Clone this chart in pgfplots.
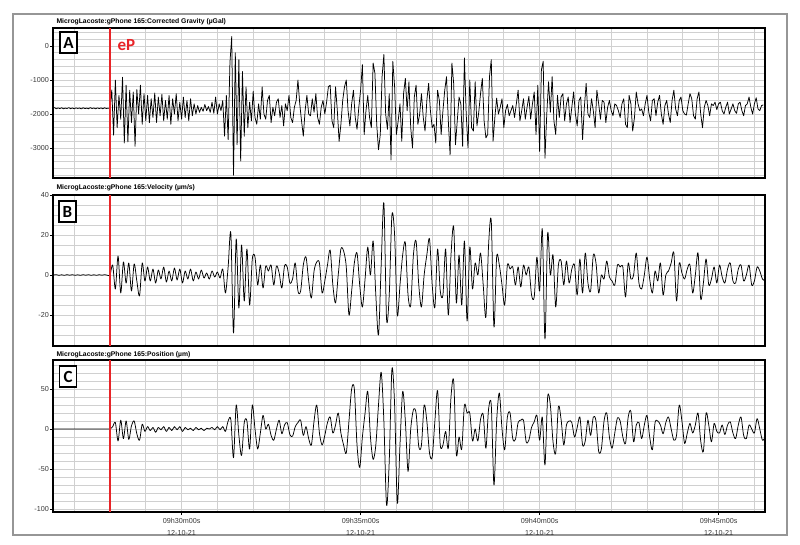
\documentclass[border=0pt]{standalone}
\usepackage{fontspec}
\setmainfont{Liberation Sans}
\newfontfamily\calibri{Carlito}
\usepackage{pgfplots}
\usepackage{pgfplotstable}
\pgfplotsset{compat=1.18}

\definecolor{epred}{RGB}{232,36,40}
\definecolor{gridgray}{RGB}{208,208,208}
\definecolor{framegray}{RGB}{150,150,150}
\definecolor{ticktext}{RGB}{55,55,55}

% corrected gravity (uGal), one sample every 0.05 min from 09h26m24s
\pgfplotstableread[row sep=\\]{
y\\
-1830\\ -1810\\ -1845\\ -1820\\ -1840\\ -1815\\ -1845\\ -1825\\ -1838\\ -1812\\ -1842\\ -1822\\ -1845\\ -1818\\ -1836\\ -1822\\
-1848\\ -1815\\ -1840\\ -1825\\ -1843\\ -1812\\ -1838\\ -1822\\ -1846\\ -1818\\ -1840\\ -1820\\ -1844\\ -1816\\ -1838\\ -1826\\
-1830\\ -1290\\ -2620\\ -1000\\ -2400\\ -1450\\ -2150\\ -920\\ -2850\\ -1150\\ -2820\\ -1300\\ -2250\\ -1350\\ -2950\\ -1280\\
-2000\\ -1150\\ -2300\\ -1400\\ -2200\\
-1450\\ -2250\\ -1550\\ -2100\\ -1380\\ -2250\\ -1500\\ -2050\\ -1420\\ -2200\\ -1600\\ -2150\\ -1450\\ -2300\\ -1550\\ -2000\\
-1400\\ -2200\\ -1650\\ -2150\\ -1500\\ -2100\\ -1600\\ -2200\\ -1550\\ -2050\\ -1700\\ -2000\\
-1750\\ -1950\\ -1800\\ -1920\\ -1720\\ -1900\\ -1780\\ -1950\\ -1650\\ -1980\\ -1500\\ -2000\\ -1700\\ -1900\\
-1600\\ -2650\\ -1450\\ -2750\\ -500\\ 280\\ -3800\\ -200\\ -2900\\ -400\\ -3380\\ -750\\ -2650\\ -1200\\ -2400\\
-1650\\ -2200\\ -1330\\ -2100\\ -2300\\ -1700\\ -2150\\ -1200\\ -2000\\ -2150\\ -1600\\ -1450\\ -2250\\ -1800\\ -2050\\ -1650\\
-1550\\ -2100\\ -1750\\ -2350\\ -1700\\ -1900\\ -1450\\ -2100\\ -2250\\ -1800\\ -1600\\ -1000\\ -1700\\ -2200\\ -2650\\ -1900\\
-1450\\ -2000\\ -2050\\ -1550\\ -1950\\ -1400\\ -2100\\ -2300\\ -1800\\ -1600\\ -2000\\ -1650\\ -1200\\ -1150\\ -2200\\ -2400\\
-1200\\ -1900\\ -2800\\ -2300\\ -1600\\ -1200\\ -1000\\ -1900\\ -2350\\ -1700\\ -1300\\ -2100\\ -2450\\ -1800\\
-1300\\ -550\\ -2600\\ -1900\\ -1450\\ -2100\\ -2400\\ -500\\ -800\\ -2300\\ -3050\\ -2600\\ -900\\ -250\\ -2000\\ -2450\\
-1400\\ -3350\\ -450\\ -1200\\ -2600\\ -2200\\ -1700\\ -2800\\ -1400\\ -950\\ -1900\\ -1050\\ -2400\\ -3000\\ -1500\\ -1150\\
-2300\\ -2000\\ -1400\\ -2100\\ -2500\\ -1600\\ -1100\\ -1900\\ -2400\\ -2300\\ -2850\\ -1300\\ -1600\\
-2600\\ -1900\\ -1300\\ -900\\ -2200\\ -3200\\ -500\\ -1100\\ -2900\\ -2200\\ -1500\\ -1700\\ -2950\\ -350\\ -2000\\ -3000\\
-1000\\ -2400\\ -2500\\ -1050\\ -2350\\ -1950\\ -1400\\ -950\\ -2200\\ -2700\\ -2600\\ -900\\ -400\\ -2800\\ -2100\\ -1530\\
-2000\\ -1800\\ -1550\\ -2400\\ -1900\\ -1720\\ -2050\\ -1900\\ -1750\\ -2100\\ -1700\\ -1300\\ -2200\\ -1900\\ -1550\\ -2150\\
-1800\\ -1480\\ -2150\\ -1700\\ -1350\\ -2600\\ -1150\\ -3100\\ -700\\ -450\\ -3300\\ -2000\\ -1050\\ -1950\\ -900\\ -2200\\
-2600\\ -1450\\ -2100\\ -1500\\ -1400\\ -2200\\ -1700\\ -1500\\ -2250\\ -1800\\ -1350\\ -2000\\ -2350\\ -1600\\ -1500\\ -2750\\
-1800\\ -1100\\ -2000\\ -2100\\ -1550\\ -1900\\ -2400\\ -1300\\ -1700\\ -2150\\ -1600\\ -1650\\ -2250\\ -1800\\ -1600\\ -1900\\
-2050\\ -1700\\ -1750\\ -1900\\ -2100\\ -1700\\ -1550\\ -2300\\ -2400\\ -1450\\ -1700\\ -2500\\ -2100\\ -1350\\ -1700\\ -1900\\
-1850\\ -2050\\ -1700\\ -1450\\ -1950\\ -2200\\ -1600\\ -1550\\ -2050\\ -1650\\ -1450\\ -2000\\ -2300\\ -1750\\ -1600\\ -2000\\
-2250\\ -1600\\ -1300\\ -1850\\ -2050\\ -1600\\ -1500\\ -1900\\ -2000\\ -2030\\ -1700\\ -1400\\ -1550\\ -2050\\ -2150\\ -1550\\
-1350\\ -2000\\ -2400\\ -1800\\ -1600\\ -1750\\ -2050\\ -1700\\ -1750\\ -1650\\ -1870\\ -1700\\ -1650\\ -1900\\ -2000\\ -1800\\
-1650\\ -2000\\ -1850\\ -1700\\ -1900\\ -1980\\ -1700\\ -1650\\ -1900\\ -2050\\ -1750\\ -1700\\ -1500\\ -1800\\ -2000\\ -1700\\
-1520\\ -1850\\ -1900\\ -1750\\ -1730\\
}\gravA

% velocity (um/s), one sample every 0.075 min from 09h26m25.5s
\pgfplotstableread[row sep=\\]{
y\\
0\\ 0.15\\ -0.15\\ 0.1\\ -0.15\\ 0.15\\ -0.1\\ 0.15\\ -0.15\\ 0.1\\ -0.15\\ 0.15\\ -0.1\\ 0.15\\ -0.15\\ 0.1\\ -0.15\\ 0.15\\ -0.1\\ 0.15\\ -0.1\\
0\\ 5\\ -7\\ 9.5\\ -9\\ 6.5\\ -4\\ 6\\ -8\\ 5.5\\ -3\\ -10.5\\ 6\\ -3\\
4\\ -3\\ 3\\ -4\\ 2.5\\ -2\\ 4\\ -3.5\\ 2\\ -3\\ 3.5\\ -2.5\\ 3\\ -4\\ 2\\ -2\\ 3\\ -3\\ 1.5\\ -2\\ 2.5\\ -1.5\\ 1\\ -2\\ 2\\ -1\\
1.5\\ -1.5\\ 3\\
-9\\ 4\\ 21\\ -29\\ 18\\ -16.5\\ 15\\ -13\\ 13\\ -15\\ 8\\
9\\ -5\\ 5\\ -6.5\\ 4.5\\ 2\\ 5\\ -5\\ 4.5\\ 1\\ -6.5\\ 4.5\\ 4\\ -4\\ -2\\ 6\\ -8\\ -8\\ 5\\ 9\\ -3\\ -11.5\\ 2\\ 6.5\\ 6\\ -9\\
-3\\ 5\\ 12.5\\ -5\\ -14\\ 0\\ 13\\ 12\\ 4\\ -20\\ -8\\ 6\\ 11\\ -5\\ -16\\ -2\\ 14\\ 0\\ 17\\ -10\\ -30\\ 5\\ 36\\ -22\\ -10\\ 30\\
20\\ -20\\ -5\\ 10\\ 16\\ -10\\ -15\\ 10\\ 17\\ -5\\ -16\\ 0\\ 10\\ 18\\ -5\\ -16\\ 13\\
-8\\ -10\\ 13\\ -20\\ 10\\ 24\\ -14\\ 10\\ -15\\ 17\\ -23\\ 14\\ -7\\ 6\\ 0\\ 11\\ -5\\ -21\\ 15\\ 27\\ -26\\ 9\\ 5\\ -5\\ -15\\ 5\\
3\\ 4\\ -5\\ 4\\ -6\\ 5\\ 0\\ 4\\ -10\\ -11\\ 9\\ -8\\ 23\\ -32\\ 21\\ 0\\ 10\\ -16\\ 5\\ 7\\ -5\\ 7\\ -4\\ 3\\ 5\\ -10\\ 8\\ -9\\
11\\ -4\\ -8\\ 10\\ 6\\ -9\\ 0\\ -2\\ 7\\ -1\\ -3\\ -5\\ 5\\ 4\\ 4\\ -11\\ 6\\ -2\\ 0\\ 11\\ -4\\ -7\\ 0\\ 9\\ -2\\ -9\\ 2\\ -3\\
6\\ -10\\ 0\\ 2\\ 6\\ 11\\ -13\\ 6\\ 1\\ -2\\ 3\\ 5\\ -9\\ 0\\ 11\\ -12\\ -4\\ 8\\ -5\\ -2\\ 4\\ -4\\ 5\\ -1\\ -4\\ 3\\ 6\\ -3\\ -4\\
3\\ 5\\ -3\\ 0\\ 5\\ -5\\ -3\\ 4\\ 2\\ -2\\ -3\\
}\velB

% position (um), one sample every 0.075 min from 09h26m25.5s
\pgfplotstableread[row sep=\\]{
y\\
0\\ 0\\ 0\\ 0\\ 0\\ 0\\ 0\\ 0\\ 0\\ 0\\ 0\\ 0\\ 0\\ 0\\ 0\\ 0\\ 0\\ 0\\ 0\\ 0\\ 0\\
0\\ 3\\ 8\\ -15\\ 11\\ -12\\ 10\\ -13\\ 4\\ 10\\ -6\\ -14\\ 6\\ -3\\
3\\ -2\\ 2\\ -4\\ 2\\ -1\\ 3\\ -3\\ 2\\ -2\\ 3\\ -1\\ 3\\ -3\\ 2\\ -1\\ 1\\ -2\\ 2\\ -1\\ 1\\ -2\\ 1\\ 0\\ 2\\ -1\\ 3\\ -1\\ 3\\
-3\\ 10\\ 12\\ -36\\ 30\\ -8\\ -33\\ 8\\ 10\\ -25\\ 30\\ 0\\ -25\\ -5\\ 17\\ 0\\ 6\\ -8\\ -14\\ 0\\ 11\\ -6\\ 5\\ 8\\ -7\\ -9\\
3\\ 8\\ 11\\ -8\\ 3\\ -12\\ -20\\ 10\\ 30\\ -5\\ -20\\ -8\\ 8\\ 15\\ -5\\ 5\\ 20\\ -5\\ -20\\ -30\\ 10\\ 50\\ 50\\ -20\\ -48\\ -10\\
20\\ 47\\ -10\\ -38\\ -20\\ 30\\ 71\\ 10\\ -95\\ -40\\ 75\\ 30\\ -93\\ -20\\ 47\\ 10\\ -53\\ 0\\ 24\\ 20\\ -22\\ -20\\ 30\\ 10\\
-30\\ -35\\
10\\ 48\\ -20\\ -20\\ -3\\ -24\\ 40\\ 60\\ -32\\ -10\\ -25\\ 30\\ 20\\ 20\\ -15\\ 0\\ -15\\ 12\\ 18\\ -24\\ 25\\ 30\\ -70\\ 10\\
45\\ 0\\ -26\\ 15\\ 20\\ -12\\ -13\\ 8\\ 11\\ 11\\ -16\\ -14\\ 2\\ 9\\ 17\\ -14\\ 15\\ -45\\ 40\\ 30\\ -16\\ -30\\ 28\\ 12\\ -20\\
5\\ 10\\ 8\\ -10\\ 2\\ 15\\ -20\\ -15\\ 11\\ -8\\ 15\\ 10\\ -28\\ -25\\ 10\\ 20\\ -10\\ -24\\ -5\\ 14\\ 10\\ -10\\ -18\\ 15\\ 22\\
-16\\ 5\\ 8\\ -12\\ 5\\ 17\\ -10\\ -26\\ 8\\ 10\\ 5\\ -6\\ 8\\ 15\\ 0\\ -14\\ -8\\ 30\\ 10\\ -18\\ -5\\ 7\\ -5\\ 5\\ 20\\ -15\\
-28\\ 20\\ 5\\ -16\\ 7\\ -3\\ -5\\ 5\\ -7\\ 5\\ 9\\ -5\\ -12\\ 5\\ 15\\ -8\\ -12\\ 5\\ 0\\ -5\\ 13\\ 0\\ -14\\ -10\\
}\posC

\pgfplotsset{
  seis/.style={
    scale only axis, width=712pt, anchor=south west,
    xmin=26.408, xmax=46.296,
    axis line style={black, line width=1.1pt},
    grid=both,
    major grid style={gridgray, line width=0.7pt},
    minor grid style={gridgray, line width=0.7pt},
    xtick={30,35,40,45}, minor xtick={27,28,...,46},
    tick align=outside, major tick length=3pt, minor tick length=0pt,
    ytick pos=left, xtick pos=bottom,
    tick style={black, line width=0.6pt},
    ticklabel style={font=\fontsize{7.2}{8.6}\selectfont, text=ticktext},
    yticklabel style={inner sep=1pt},
  },
  trace/.style={black, line width=0.75pt, line join=round},
}
\newcommand\paneltitle{\bfseries\fontsize{6.8}{7.5}\selectfont}
\tikzset{panelbox/.style={draw=black, fill=white, line width=1.1pt, minimum width=17pt,
  minimum height=21pt, inner sep=0pt, font=\calibri\bfseries\fontsize{17}{17}\selectfont}}

\begin{document}
\begin{tikzpicture}
\useasboundingbox (0,0) rectangle (800pt,544pt);
\draw[framegray, line width=1.5pt] (13pt,9pt) rectangle (787pt,530pt);

% A: corrected gravity
\begin{axis}[seis, at={(53pt,366pt)}, height=150pt,
  ymin=-3880, ymax=530,
  ytick={-3000,-2000,-1000,0}, yticklabels={-3000,-2000,-1000,0},
  minor ytick={-3800,-3600,...,400},
  xticklabels={}, xtick style={draw=none}]
\addplot[trace] table[x expr=26.4+0.05*\coordindex, y index=0] {\gravA};
\draw[epred, line width=1.2pt] (axis cs:28,-3880) -- (axis cs:28,530);
\end{axis}

% B: velocity
\begin{axis}[seis, at={(53pt,198pt)}, height=151pt,
  ymin=-35.5, ymax=40,
  ytick={-20,0,20,40}, yticklabels={-20,0,20,40},
  minor ytick={-35,-30,...,40},
  xticklabels={}, xtick style={draw=none}]
\addplot[trace, smooth, tension=0.5] table[x expr=26.425+0.075*\coordindex, y index=0] {\velB};
\draw[epred, line width=1.2pt] (axis cs:28,-35.5) -- (axis cs:28,40);
\end{axis}

% C: position
\begin{axis}[seis, at={(53pt,32pt)}, height=152pt,
  ymin=-103.75, ymax=86.25,
  ytick={-100,-50,0,50}, yticklabels={-100,-50,0,50},
  minor ytick={-100,-90,...,80},
  xticklabels={{09h30m00s\\12-10-21},{09h35m00s\\12-10-21},{09h40m00s\\12-10-21},{09h45m00s\\12-10-21}},
  xticklabel style={align=center, font=\fontsize{7.2}{12}\selectfont}]
\addplot[trace, smooth, tension=0.5] table[x expr=26.425+0.075*\coordindex, y index=0] {\posC};
\draw[epred, line width=1.2pt] (axis cs:28,-103.75) -- (axis cs:28,86.25);
\end{axis}

\node[anchor=base west, font=\paneltitle] at (53pt,520pt) {MicrogLacoste:gPhone 165:Corrected Gravity (µGal)};
\node[anchor=base west, font=\paneltitle] at (53pt,354pt) {MicrogLacoste:gPhone 165:Velocity (µm/s)};
\node[anchor=base west, font=\paneltitle] at (53pt,188pt) {MicrogLacoste:gPhone 165:Position (µm)};

\node[panelbox] at (68.5pt,501.5pt) {A};
\node[panelbox] at (67.5pt,332.5pt) {B};
\node[panelbox] at (68pt,167.5pt) {C};
\node[anchor=base west, text=epred, font=\calibri\bfseries\fontsize{17}{17}\selectfont] at (114pt,493pt) {eP};
\end{tikzpicture}
\end{document}
